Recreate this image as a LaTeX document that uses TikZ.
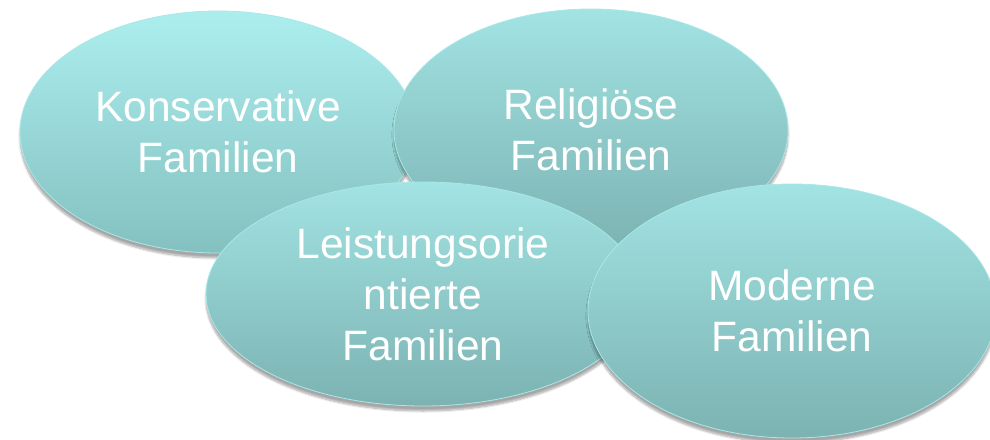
\documentclass[tikz,border=0pt]{standalone}
\usepackage{fontspec}
\setmainfont{Liberation Sans}
\usetikzlibrary{shapes.geometric,shadows.blur}
\definecolor{topA}{RGB}{172,238,238}
\definecolor{botA}{RGB}{132,192,192}
\definecolor{topB}{RGB}{162,227,227}
\definecolor{botB}{RGB}{124,178,178}
\definecolor{edgeB}{RGB}{170,232,232}
\tikzset{
  famnode/.style={ellipse, inner sep=0pt, align=center, text=white,
    font=\fontsize{42.5}{51}\selectfont, draw=edgeB, line width=0.8pt,
    top color=topB, bottom color=botB,
    blur shadow={shadow xshift=0pt, shadow yshift=-5pt, shadow blur steps=8, shadow opacity=35}},
}
\begin{document}
\begin{tikzpicture}[x=1pt,y=-1pt]
\useasboundingbox (0,0) rectangle (990,439);
\node[famnode, top color=topA, bottom color=botA, minimum width=396pt, minimum height=242pt] (kons) at (218,132) {Konservative\\Familien};
\node[famnode, minimum width=394pt, minimum height=242pt] (reli) at (591,130) {Religiöse\\Familien};
\node[famnode, minimum width=434pt, minimum height=224pt] (leis) at (423,294) {Leistungsorie\\ntierte\\Familien};
\node[famnode, minimum width=408pt, minimum height=254pt] (mod) at (792,311) {Moderne\\Familien};
\end{tikzpicture}
\end{document}
